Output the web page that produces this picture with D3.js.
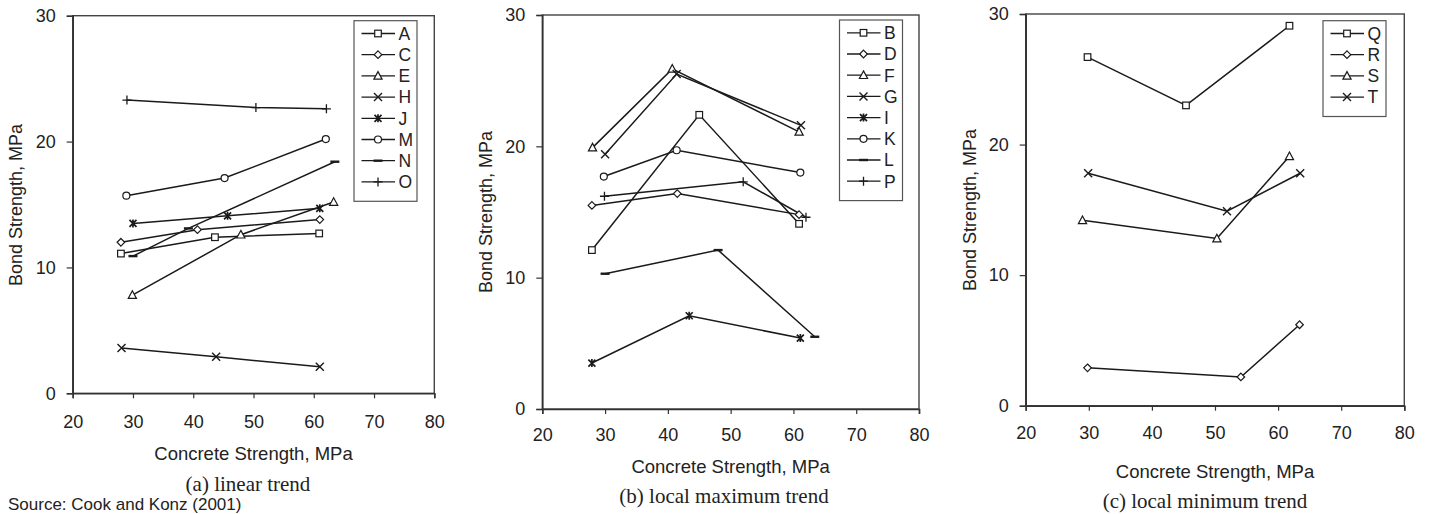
<!DOCTYPE html>
<html>
<head>
<meta charset="utf-8">
<script src="https://cdn.jsdelivr.net/npm/d3@7"></script>
<style>
  body { margin: 0; background: #fff; }
  svg text { font-family: "Liberation Sans", Arial, sans-serif; fill: #222; }
  svg text.caption { font-family: "Liberation Serif", "Times New Roman", serif; }
</style>
</head>
<body>
<div id="chart"></div>
<script>
// data
const X_TICKS = [20, 30, 40, 50, 60, 70, 80];
const Y_TICKS = [0, 10, 20, 30];

// (a) linear trend
const namesA = ["A", "C", "E", "H", "J", "M", "N", "O"];
const xA = [
  [28, 43.6, 60.9],
  [28, 40.7, 61],
  [29.9, 47.9, 63.3],
  [28.1, 43.8, 61],
  [30, 45.7, 61],
  [28.9, 45.2, 62],
  [30, 39.2, 63.5],
  [29, 50.4, 62.1]
];
const yA = [
  [11.1, 12.4, 12.7],
  [12.0, 13.0, 13.8],
  [7.8, 12.6, 15.2],
  [3.6, 2.9, 2.1],
  [13.5, 14.1, 14.7],
  [15.7, 17.1, 20.2],
  [10.9, 13.1, 18.4],
  [23.3, 22.7, 22.6]
];

// (b) local maximum trend
const namesB = ["B", "D", "F", "G", "I", "K", "L", "P"];
const xB = [
  [27.9, 45, 60.9],
  [27.9, 41.5, 60.9],
  [28, 40.7, 60.9],
  [30, 41.4, 61.2],
  [27.9, 43.4, 61.1],
  [29.8, 41.4, 61.1],
  [30, 48, 63.4],
  [29.9, 52, 62]
];
const yB = [
  [12.1, 22.4, 14.1],
  [15.5, 16.4, 14.8],
  [19.9, 25.9, 21.1],
  [19.4, 25.5, 21.6],
  [3.5, 7.1, 5.4],
  [17.7, 19.7, 18.0],
  [10.3, 12.1, 5.5],
  [16.2, 17.3, 14.6]
];

// (c) local minimum trend
const namesC = ["Q", "R", "S", "T"];
const xC = [
  [29.8, 45.4, 61.8],
  [29.8, 54.1, 63.4],
  [29, 50.3, 61.8],
  [29.9, 51.9, 63.5]
];
const yC = [
  [26.7, 23.0, 29.1],
  [2.9, 2.2, 6.2],
  [14.2, 12.8, 19.1],
  [17.8, 14.9, 17.8]
];

// marker style per series (order of the Excel defaults)
const MARKERS = ["square", "diamond", "triangle", "x", "star", "circle", "dash", "plus"];

const WIDTH = 1429, HEIGHT = 514;
const INK = "#1a1a1a";

const svg = d3.select("#chart").append("svg")
  .attr("width", WIDTH)
  .attr("height", HEIGHT);

function marker(g, type, cx, cy) {
  const m = g.append("g").attr("transform", `translate(${cx},${cy})`)
    .attr("stroke", INK).attr("stroke-width", 1.2).attr("fill", "#fff");
  if (type === "square") {
    m.append("rect").attr("x", -3.3).attr("y", -3.3).attr("width", 6.6).attr("height", 6.6);
  } else if (type === "diamond") {
    m.append("path").attr("d", "M0,-3.8L3.8,0L0,3.8L-3.8,0Z");
  } else if (type === "triangle") {
    m.append("path").attr("d", "M0,-4.3L4.1,3.3L-4.1,3.3Z");
  } else if (type === "circle") {
    m.append("circle").attr("r", 3.5);
  } else if (type === "x") {
    m.append("path").attr("d", "M-4,-4L4,4M-4,4L4,-4").attr("stroke-width", 1.4);
  } else if (type === "star") {
    m.append("path").attr("d", "M-3.5,-3.5L3.5,3.5M-3.5,3.5L3.5,-3.5M0,-4L0,4").attr("stroke-width", 1.7);
  } else if (type === "dash") {
    m.append("path").attr("d", "M-4.5,0L4.5,0").attr("stroke-width", 2.4);
  } else if (type === "plus") {
    m.append("path").attr("d", "M0,-4.5L0,4.5M-4.5,0L4.5,0").attr("stroke-width", 1.3);
  }
}

function drawPanel(p) {
  const x = d3.scaleLinear().domain([20, 80]).range([p.left, p.right]);
  const y = d3.scaleLinear().domain([0, 30]).range([p.bottom, p.top]);
  const g = svg.append("g");

  // frame
  g.append("rect")
    .attr("x", p.left).attr("y", p.top)
    .attr("width", p.right - p.left).attr("height", p.bottom - p.top)
    .attr("fill", "none").attr("stroke", "#444").attr("stroke-width", 1.4);

  const xAxis = g.append("g")
    .attr("transform", `translate(0,${p.bottom})`)
    .call(d3.axisBottom(x).tickValues(X_TICKS).tickSize(5).tickPadding(p.xPad).tickFormat(d3.format("d")));
  const yAxis = g.append("g")
    .attr("transform", `translate(${p.left},0)`)
    .call(d3.axisLeft(y).tickValues(Y_TICKS).tickSize(6).tickPadding(11).tickFormat(d3.format("d")));
  [xAxis, yAxis].forEach(a => {
    a.select(".domain").attr("stroke", "#333").attr("stroke-width", 1.6);
    a.selectAll(".tick line").attr("stroke", "#333").attr("stroke-width", 1.2);
    a.selectAll(".tick text").attr("font-size", 18).attr("fill", "#222")
      .attr("font-family", "Liberation Sans, Arial, sans-serif");
  });

  // axis titles
  g.append("text")
    .attr("x", (p.left + p.right) / 2).attr("y", p.xTitleY)
    .attr("text-anchor", "middle").attr("font-size", 18.5)
    .text("Concrete Strength, MPa");
  g.append("text")
    .attr("transform", `translate(${p.yTitleX},${p.yTitleCy}) rotate(-90)`)
    .attr("text-anchor", "middle").attr("font-size", 18)
    .text("Bond Strength, MPa");

  // caption
  g.append("text").attr("class", "caption")
    .attr("x", p.captionX).attr("y", p.captionY)
    .attr("text-anchor", "middle").attr("font-size", 21)
    .text(p.caption);

  // series
  const line = d3.line().x(d => x(d[0])).y(d => y(d[1]));
  p.names.forEach((name, i) => {
    const pts = p.xs[i].map((v, j) => [v, p.ys[i][j]]);
    g.append("path").datum(pts)
      .attr("fill", "none").attr("stroke", INK).attr("stroke-width", 1.5)
      .attr("d", line);
  });
  p.names.forEach((name, i) => {
    p.xs[i].forEach((v, j) => marker(g, MARKERS[i], x(v), y(p.ys[i][j])));
  });

  // legend
  const lg = p.legend;
  const rowH = 21.2;
  g.append("rect")
    .attr("x", lg.x).attr("y", lg.y)
    .attr("width", 63).attr("height", 11 + p.names.length * rowH)
    .attr("fill", "#fff").attr("stroke", "#555").attr("stroke-width", 1.2);
  p.names.forEach((name, i) => {
    const cy = lg.y + 12.8 + i * rowH;
    g.append("line")
      .attr("x1", lg.x + 7.5).attr("x2", lg.x + 41)
      .attr("y1", cy).attr("y2", cy)
      .attr("stroke", INK).attr("stroke-width", 1.3);
    marker(g, MARKERS[i], lg.x + 24, cy);
    g.append("text")
      .attr("x", lg.x + 44.5).attr("y", cy)
      .attr("dy", "0.36em").attr("font-size", 17.5)
      .text(name);
  });
}

drawPanel({
  left: 72.7, right: 434.3, top: 15.7, bottom: 393.3, xPad: 17,
  xTitleY: 460, yTitleX: 22, yTitleCy: 205,
  caption: "(a) linear trend", captionX: 248, captionY: 491,
  legend: { x: 354, y: 20.7 },
  names: namesA, xs: xA, ys: yA
});
drawPanel({
  left: 542.3, right: 919, top: 15, bottom: 409, xPad: 14,
  xTitleY: 473, yTitleX: 492, yTitleCy: 212,
  caption: "(b) local maximum trend", captionX: 724, captionY: 503,
  legend: { x: 839.5, y: 20 },
  names: namesB, xs: xB, ys: yB
});
drawPanel({
  left: 1025.7, right: 1404.3, top: 14, bottom: 405.7, xPad: 16,
  xTitleY: 478, yTitleX: 976, yTitleCy: 210,
  caption: "(c) local minimum trend", captionX: 1205, captionY: 508,
  legend: { x: 1323, y: 20.7 },
  names: namesC, xs: xC, ys: yC
});

// source note at the bottom left
svg.append("text")
  .attr("x", 8).attr("y", 510)
  .attr("font-size", 17)
  .text("Source: Cook and Konz (2001)");
</script>
</body>
</html>
